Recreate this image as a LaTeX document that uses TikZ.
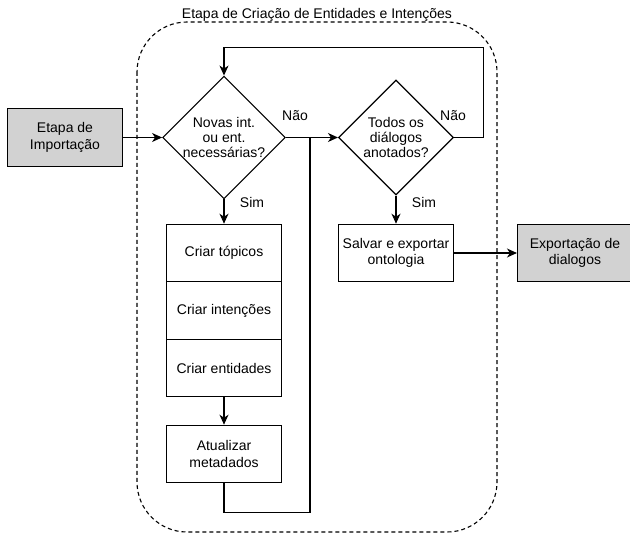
\documentclass[tikz,border=0pt]{standalone}
\usepackage{fontspec}
\setmainfont{Liberation Sans}
\usetikzlibrary{shapes.geometric,arrows.meta}

\tikzset{
	box/.style={draw, line width=1.1pt, minimum width=115pt, minimum height=57.5pt, inner sep=2pt, align=center},
	stage/.style={box, fill=gray!35},
	decision/.style={draw, diamond, line width=1.1pt, minimum size=115pt, aspect=1, inner sep=0pt, align=center, font=\fontsize{14}{15}\selectfont},
	flow/.style={line width=1.1pt, -{Stealth[length=10pt,width=9pt,inset=3pt]}},
	link/.style={line width=1.1pt},
	tag/.style={font=\fontsize{14}{16}\selectfont}
}

\begin{document}
\begin{tikzpicture}[x=1pt, y=-1pt, font=\fontsize{14}{16.5}\selectfont]
	\useasboundingbox (0,0) rectangle (630,540);

	% Draw the stage frame
	\draw[line width=1.1pt, dash pattern=on 4pt off 3pt, rounded corners=50pt] (137,22) rectangle (497,532);
	\node[tag] (title) at (317,15) {Etapa de Criação de Entidades e Intenções};

	% Draw nodes
	\node[stage] (imp) at (65,137.5) {Etapa de\\Importação};
	\node[decision] (novas) at (224,137.5) {Novas int.\\ou ent.\\necessárias?};
	\node[decision] (todos) at (396,137.5) {Todos os\\diálogos\\anotados?};
	\node[box] (topicos) at (224,253) {Criar tópicos};
	\node[box] (intencoes) at (224,310.5) {Criar intenções};
	\node[box] (entidades) at (224,368) {Criar entidades};
	\node[box] (meta) at (224,454) {Atualizar\\metadados};
	\node[box] (salvar) at (396,253) {Salvar e exportar\\ontologia};
	\node[stage] (exp) at (575,253) {Exportação de\\dialogos};
	\coordinate (join) at (310,137.5);

	% Draw connectors
	\draw[flow] (imp.east) -- (novas.west);
	\draw[flow] (novas.east) -- (todos.west);
	\draw[link] (meta.south) -- ++(0,29) -| (join);
	\draw[flow] (novas.south) -- (topicos.north);
	\draw[flow] (entidades.south) -- (meta.north);
	\draw[flow] (todos.east) -- ++(29,0) |- ([yshift=28pt]novas.north) -- (novas.north);
	\draw[flow] (todos.south) -- (salvar.north);
	\draw[flow] (salvar.east) -- (exp.west);

	% Draw labels
	\node[tag] (nao1) at (295,116) {Não};
	\node[tag] (nao2) at (453,116) {Não};
	\node[tag] (sim1) at (252,202) {Sim};
	\node[tag] (sim2) at (424,202) {Sim};
\end{tikzpicture}
\end{document}
